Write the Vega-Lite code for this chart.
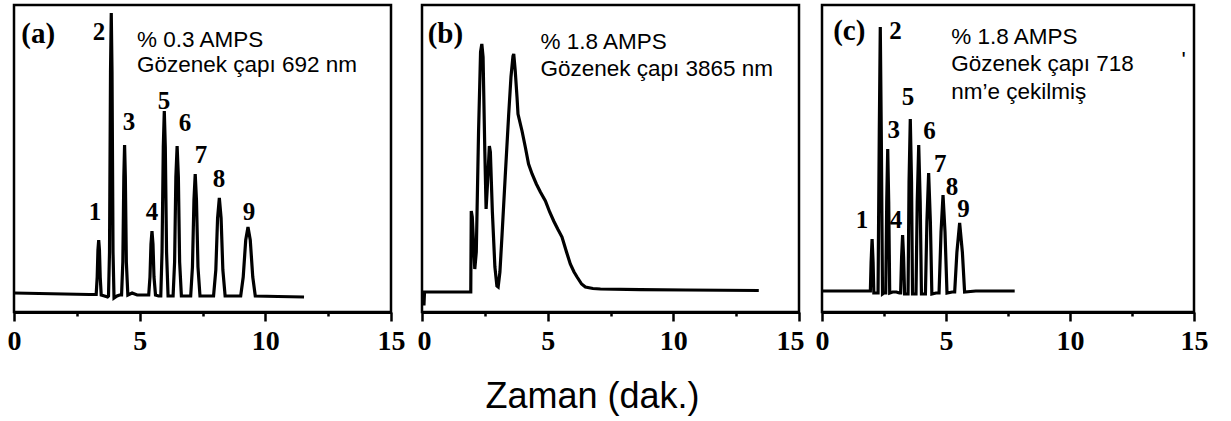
{
  "$schema": "https://vega.github.io/schema/vega-lite/v6.json",
  "padding": {"left": 5, "top": 3, "right": 5, "bottom": 5},
  "background": "white",
  "config": {
    "view": {"stroke": "black", "strokeWidth": 2.5},
    "font": "Liberation Sans"
  },
  "datasets": {
    "a": [
      {"t":0,"h":19},{"t":1,"h":18.5},{"t":2,"h":18},{"t":3.0,"h":17.5},
      {"t":3.27,"h":17.5},{"t":3.31,"h":35},{"t":3.34,"h":62},{"t":3.37,"h":72},{"t":3.40,"h":62},{"t":3.43,"h":35},{"t":3.47,"h":17},
      {"t":3.6,"h":16},{"t":3.72,"h":15},
      {"t":3.76,"h":16},{"t":3.80,"h":60},{"t":3.84,"h":240},{"t":3.87,"h":299},{"t":3.90,"h":240},{"t":3.94,"h":60},{"t":3.98,"h":14},
      {"t":4.1,"h":16},{"t":4.2,"h":17},
      {"t":4.28,"h":17},{"t":4.33,"h":50},{"t":4.37,"h":135},{"t":4.40,"h":167},{"t":4.43,"h":135},{"t":4.47,"h":50},{"t":4.53,"h":17},
      {"t":4.7,"h":19},{"t":4.9,"h":17},{"t":5.2,"h":17},
      {"t":5.36,"h":17},{"t":5.41,"h":35},{"t":5.45,"h":68},{"t":5.49,"h":81},{"t":5.53,"h":68},{"t":5.57,"h":35},{"t":5.63,"h":17},
      {"t":5.75,"h":16},
      {"t":5.84,"h":16},{"t":5.89,"h":60},{"t":5.94,"h":165},{"t":5.98,"h":201},{"t":6.02,"h":165},{"t":6.07,"h":60},{"t":6.13,"h":16},
      {"t":6.25,"h":16},
      {"t":6.33,"h":16},{"t":6.39,"h":50},{"t":6.44,"h":135},{"t":6.49,"h":166},{"t":6.54,"h":135},{"t":6.59,"h":50},{"t":6.66,"h":16},
      {"t":6.85,"h":16},
      {"t":7.03,"h":16},{"t":7.10,"h":45},{"t":7.16,"h":112},{"t":7.21,"h":138},{"t":7.26,"h":112},{"t":7.32,"h":45},{"t":7.40,"h":16},
      {"t":7.7,"h":16},
      {"t":7.94,"h":16},{"t":8.03,"h":42},{"t":8.10,"h":94},{"t":8.17,"h":114},{"t":8.24,"h":94},{"t":8.31,"h":42},{"t":8.40,"h":16},
      {"t":8.8,"h":16},
      {"t":9.02,"h":16},{"t":9.12,"h":35},{"t":9.22,"h":72},{"t":9.31,"h":85},{"t":9.40,"h":72},{"t":9.50,"h":35},{"t":9.60,"h":16},
      {"t":10.5,"h":15.5},{"t":11.54,"h":15}
    ],
    "aPeaks": [
      {"t":3.22,"h":100,"s":"1"},{"t":3.38,"h":280,"s":"2"},{"t":4.58,"h":190,"s":"3"},
      {"t":5.49,"h":100,"s":"4"},{"t":5.97,"h":211,"s":"5"},{"t":6.80,"h":189,"s":"6"},
      {"t":7.44,"h":157,"s":"7"},{"t":8.16,"h":133,"s":"8"},{"t":9.35,"h":100,"s":"9"}
    ],
    "aTag": [{"t":0.96,"h":278,"s":"(a)"}],
    "aNotes": [
      {"t":4.89,"h":272,"s":"% 0.3 AMPS"},
      {"t":4.89,"h":247,"s":"Gözenek çapı 692 nm"}
    ],
    "b": [
      {"t":0.0,"h":8},{"t":0.08,"h":8},{"t":0.1,"h":20},{"t":0.5,"h":20},{"t":1.0,"h":20},{"t":1.5,"h":20},{"t":1.94,"h":20},
      {"t":1.96,"h":101},{"t":2.00,"h":95},{"t":2.10,"h":43},{"t":2.16,"h":60},{"t":2.25,"h":180},{"t":2.33,"h":260},{"t":2.38,"h":268},
      {"t":2.43,"h":255},{"t":2.50,"h":160},{"t":2.55,"h":103},{"t":2.61,"h":130},{"t":2.68,"h":166},{"t":2.72,"h":160},{"t":2.80,"h":100},
      {"t":2.90,"h":45},{"t":2.98,"h":26},{"t":3.03,"h":25},{"t":3.10,"h":40},{"t":3.18,"h":75},{"t":3.31,"h":135},{"t":3.45,"h":198},
      {"t":3.54,"h":235},{"t":3.62,"h":256},{"t":3.65,"h":258},{"t":3.71,"h":241},{"t":3.78,"h":215},{"t":3.82,"h":198},{"t":3.98,"h":181},
      {"t":4.11,"h":165},{"t":4.24,"h":148},{"t":4.38,"h":138},{"t":4.55,"h":128},{"t":4.71,"h":120},{"t":4.91,"h":111},{"t":5.08,"h":100},
      {"t":5.24,"h":91},{"t":5.40,"h":83},{"t":5.57,"h":75},{"t":5.75,"h":60},{"t":5.90,"h":48},{"t":6.05,"h":40},{"t":6.17,"h":35},
      {"t":6.35,"h":28},{"t":6.50,"h":25},{"t":6.8,"h":23.5},{"t":7.10,"h":23},{"t":8.69,"h":22.3},{"t":10.5,"h":22},{"t":13.40,"h":21.5}
    ],
    "bTag": [{"t":0.93,"h":278,"s":"(b)"}],
    "bNotes": [
      {"t":4.71,"h":270,"s":"% 1.8 AMPS"},
      {"t":4.71,"h":243,"s":"Gözenek çapı 3865 nm"}
    ],
    "c": [
      {"t":0,"h":21},{"t":1.0,"h":21},{"t":1.9,"h":21},
      {"t":1.95,"h":21},{"t":1.98,"h":50},{"t":2.02,"h":73},{"t":2.06,"h":50},{"t":2.09,"h":19},
      {"t":2.18,"h":19},
      {"t":2.26,"h":19},{"t":2.31,"h":180},{"t":2.35,"h":285},{"t":2.39,"h":180},{"t":2.44,"h":18},
      {"t":2.50,"h":19},
      {"t":2.57,"h":19},{"t":2.61,"h":110},{"t":2.65,"h":163},{"t":2.69,"h":110},{"t":2.73,"h":19},
      {"t":2.85,"h":20},{"t":3.0,"h":20},{"t":3.12,"h":19},
      {"t":3.17,"h":19},{"t":3.21,"h":55},{"t":3.25,"h":77},{"t":3.29,"h":55},{"t":3.33,"h":18},
      {"t":3.40,"h":18},
      {"t":3.47,"h":18},{"t":3.51,"h":130},{"t":3.56,"h":193},{"t":3.61,"h":130},{"t":3.65,"h":18},
      {"t":3.72,"h":18},
      {"t":3.79,"h":18},{"t":3.84,"h":110},{"t":3.90,"h":167},{"t":3.96,"h":110},{"t":4.01,"h":18},
      {"t":4.10,"h":18},
      {"t":4.17,"h":18},{"t":4.23,"h":90},{"t":4.30,"h":139},{"t":4.37,"h":90},{"t":4.43,"h":18},
      {"t":4.60,"h":19},
      {"t":4.72,"h":19},{"t":4.80,"h":80},{"t":4.88,"h":117},{"t":4.96,"h":80},{"t":5.04,"h":19},
      {"t":5.25,"h":20},
      {"t":5.35,"h":20},{"t":5.44,"h":60},{"t":5.55,"h":89},{"t":5.66,"h":60},{"t":5.75,"h":20},
      {"t":6.2,"h":21},{"t":7.0,"h":21},{"t":7.77,"h":21}
    ],
    "cPeaks": [
      {"t":1.61,"h":92,"s":"1"},{"t":2.96,"h":281,"s":"2"},{"t":2.89,"h":182,"s":"3"},
      {"t":2.98,"h":92,"s":"4"},{"t":3.47,"h":215,"s":"5"},{"t":4.33,"h":181,"s":"6"},
      {"t":4.77,"h":148,"s":"7"},{"t":5.24,"h":125,"s":"8"},{"t":5.71,"h":103,"s":"9"}
    ],
    "cTag": [{"t":1.10,"h":281,"s":"(c)"}],
    "cNotes": [
      {"t":5.21,"h":275,"s":"% 1.8 AMPS"},
      {"t":5.21,"h":248,"s":"Gözenek çapı 718"},
      {"t":5.21,"h":220,"s":"nm’e çekilmiş"},
      {"t":14.5,"h":252,"s":"'"}
    ]
  },
  "hconcat": [
    {
      "width": 377, "height": 307,
      "layer": [
        {
          "data": {"name": "a"},
          "mark": {"type": "line", "color": "black", "strokeWidth": 3.2},
          "encoding": {
            "x": {"field": "t", "type": "quantitative", "scale": {"domain": [0, 15], "nice": false},
              "axis": {"values": [0, 2.5, 5, 7.5, 10, 12.5, 15], "labelExpr": "datum.value % 5 === 0 ? format(datum.value, 'd') : ''",
                "tickSize": {"condition": {"test": "datum.value % 5 === 0", "value": 9}, "value": 4},
                "tickWidth": 2.5, "tickColor": "black", "domainColor": "black", "domainWidth": 3,
                "labelFont": "Liberation Serif", "labelFontWeight": "bold", "labelFontSize": 28, "labelColor": "black",
                "labelPadding": 6, "labelFlush": false, "labelOverlap": false, "grid": false, "title": null}},
            "y": {"field": "h", "type": "quantitative", "scale": {"domain": [0, 307], "nice": false}, "axis": null}
          }
        },
        {
          "data": {"name": "aPeaks"},
          "mark": {"type": "text", "font": "Liberation Serif", "fontWeight": "bold", "fontSize": 25, "color": "black", "align": "center", "baseline": "middle"},
          "encoding": {"x": {"field": "t", "type": "quantitative"}, "y": {"field": "h", "type": "quantitative"}, "text": {"field": "s"}}
        },
        {
          "data": {"name": "aTag"},
          "mark": {"type": "text", "font": "Liberation Serif", "fontWeight": "bold", "fontSize": 29, "color": "black", "align": "center", "baseline": "middle"},
          "encoding": {"x": {"field": "t", "type": "quantitative"}, "y": {"field": "h", "type": "quantitative"}, "text": {"field": "s"}}
        },
        {
          "data": {"name": "aNotes"},
          "mark": {"type": "text", "font": "Liberation Sans", "fontSize": 22.5, "color": "black", "align": "left", "baseline": "middle"},
          "encoding": {"x": {"field": "t", "type": "quantitative"}, "y": {"field": "h", "type": "quantitative"}, "text": {"field": "s"}}
        }
      ]
    },
    {
      "hconcat": [
        {
          "width": 377, "height": 307,
          "layer": [
            {
              "data": {"name": "b"},
              "mark": {"type": "line", "color": "black", "strokeWidth": 3.2},
              "encoding": {
                "x": {"field": "t", "type": "quantitative", "scale": {"domain": [0, 15], "nice": false},
                  "axis": {"values": [0, 2.5, 5, 7.5, 10, 12.5, 15], "labelExpr": "datum.value % 5 === 0 ? format(datum.value, 'd') : ''",
                    "tickSize": {"condition": {"test": "datum.value % 5 === 0", "value": 9}, "value": 4},
                    "tickWidth": 2.5, "tickColor": "black", "domainColor": "black", "domainWidth": 3,
                    "labelFont": "Liberation Serif", "labelFontWeight": "bold", "labelFontSize": 28, "labelColor": "black",
                    "labelPadding": 6, "labelFlush": true, "labelFlushOffset": 5, "labelOverlap": false, "grid": false,
                    "title": "Zaman (dak.)", "titleFont": "Liberation Sans", "titleFontSize": 36, "titleFontWeight": "normal",
                    "titleColor": "black", "titlePadding": 24, "titleX": 170}},
                "y": {"field": "h", "type": "quantitative", "scale": {"domain": [0, 307], "nice": false}, "axis": null}
              }
            },
            {
              "data": {"name": "bTag"},
              "mark": {"type": "text", "font": "Liberation Serif", "fontWeight": "bold", "fontSize": 29, "color": "black", "align": "center", "baseline": "middle"},
              "encoding": {"x": {"field": "t", "type": "quantitative"}, "y": {"field": "h", "type": "quantitative"}, "text": {"field": "s"}}
            },
            {
              "data": {"name": "bNotes"},
              "mark": {"type": "text", "font": "Liberation Sans", "fontSize": 22.5, "color": "black", "align": "left", "baseline": "middle"},
              "encoding": {"x": {"field": "t", "type": "quantitative"}, "y": {"field": "h", "type": "quantitative"}, "text": {"field": "s"}}
            }
          ]
        },
        {
          "width": 372, "height": 307,
          "layer": [
            {
              "data": {"name": "c"},
              "mark": {"type": "line", "color": "black", "strokeWidth": 3.2},
              "encoding": {
                "x": {"field": "t", "type": "quantitative", "scale": {"domain": [0, 15], "nice": false},
                  "axis": {"values": [0, 2.5, 5, 7.5, 10, 12.5, 15], "labelExpr": "datum.value % 5 === 0 ? format(datum.value, 'd') : ''",
                    "tickSize": {"condition": {"test": "datum.value % 5 === 0", "value": 9}, "value": 4},
                    "tickWidth": 2.5, "tickColor": "black", "domainColor": "black", "domainWidth": 3,
                    "labelFont": "Liberation Serif", "labelFontWeight": "bold", "labelFontSize": 28, "labelColor": "black",
                    "labelPadding": 6, "labelFlush": false, "labelOverlap": false, "grid": false, "title": null}},
                "y": {"field": "h", "type": "quantitative", "scale": {"domain": [0, 307], "nice": false}, "axis": null}
              }
            },
            {
              "data": {"name": "cPeaks"},
              "mark": {"type": "text", "font": "Liberation Serif", "fontWeight": "bold", "fontSize": 25, "color": "black", "align": "center", "baseline": "middle"},
              "encoding": {"x": {"field": "t", "type": "quantitative"}, "y": {"field": "h", "type": "quantitative"}, "text": {"field": "s"}}
            },
            {
              "data": {"name": "cTag"},
              "mark": {"type": "text", "font": "Liberation Serif", "fontWeight": "bold", "fontSize": 29, "color": "black", "align": "center", "baseline": "middle"},
              "encoding": {"x": {"field": "t", "type": "quantitative"}, "y": {"field": "h", "type": "quantitative"}, "text": {"field": "s"}}
            },
            {
              "data": {"name": "cNotes"},
              "mark": {"type": "text", "font": "Liberation Sans", "fontSize": 22.5, "color": "black", "align": "left", "baseline": "middle"},
              "encoding": {"x": {"field": "t", "type": "quantitative"}, "y": {"field": "h", "type": "quantitative"}, "text": {"field": "s"}}
            }
          ]
        }
      ],
      "spacing": 23,
      "bounds": "flush"
    }
  ],
  "spacing": 31,
  "bounds": "flush"
}
